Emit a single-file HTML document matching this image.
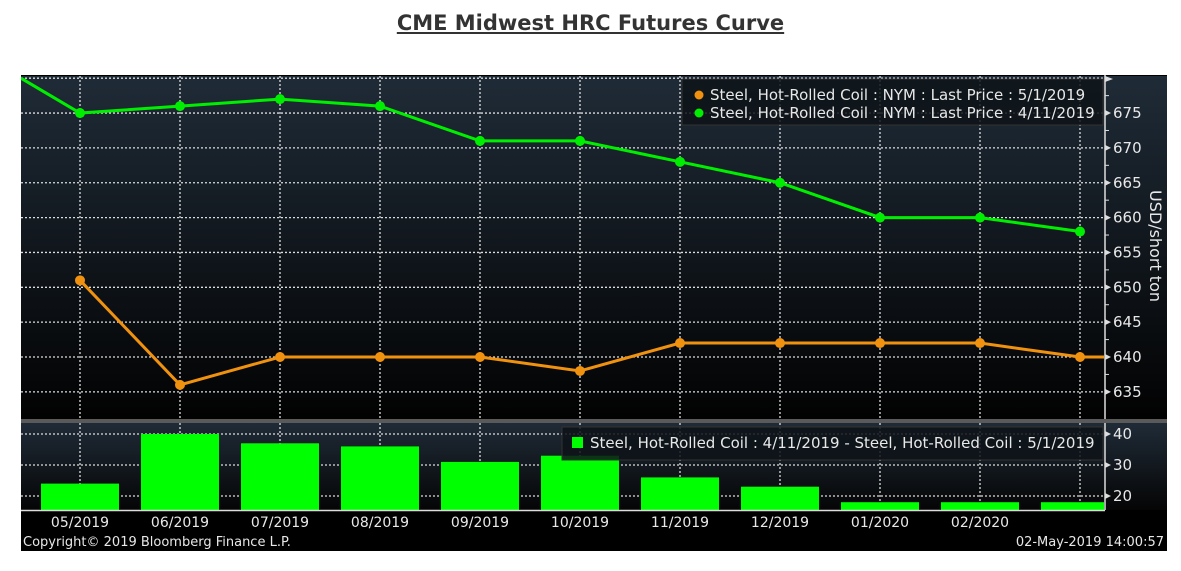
<!DOCTYPE html>
<html><head><meta charset="utf-8"><style>
body{margin:0;background:#fff;width:1181px;height:571px;overflow:hidden;font-family:"DejaVu Sans","Liberation Sans",sans-serif}
#title{position:absolute;left:0;width:1181px;top:11px;text-align:center;font:bold 21px "DejaVu Sans","Liberation Sans",sans-serif;color:#333;text-decoration:underline}
svg{position:absolute;left:0;top:0}
</style></head><body>
<div id="title">CME Midwest HRC Futures Curve</div>
<svg id="c" width="1181" height="571">
<defs>
<linearGradient id="g1" x1="0" y1="0" x2="0" y2="1"><stop offset="0" stop-color="#1f2b37"/><stop offset="1" stop-color="#020202"/></linearGradient>
<linearGradient id="g2" x1="0" y1="0" x2="0" y2="1"><stop offset="0" stop-color="#1f2b37"/><stop offset="1" stop-color="#050505"/></linearGradient>
<clipPath id="pc"><rect x="21" y="76" width="1083" height="440"/></clipPath>
</defs>
<rect x="21" y="75" width="1146" height="476" fill="#000"/>
<rect x="21" y="76" width="1146" height="343" fill="url(#g1)"/>
<rect x="21" y="419" width="1146" height="4" fill="#5a5a5a"/>
<rect x="21" y="423" width="1146" height="87" fill="url(#g2)"/>
<g id="grid"></g><g id="marks" clip-path="url(#pc)"></g><g id="axes"></g>
</svg>
<script>
const categories=["05/2019","06/2019","07/2019","08/2019","09/2019","10/2019","11/2019","12/2019","01/2020","02/2020","03/2020"];
const priceMay=[651,636,640,640,640,638,642,642,642,642,640];
const priceApr=[675,676,677,676,671,671,668,665,660,660,658];
const aprStart=680, mayEnd=640;
const yTicks=[635,640,645,650,655,660,665,670,675];
const diffTicks=[20,30,40];
const NS="http://www.w3.org/2000/svg";
const xs=i=>80+i*100;
const yU=v=>357-(v-640)*6.97;
const yL=v=>496-(v-20)*3.1;
function mk(p,t,a){const e=document.createElementNS(NS,t);for(const k in a)e.setAttribute(k,a[k]);p.appendChild(e);return e;}
const grid=document.getElementById('grid'),marks=document.getElementById('marks'),axes=document.getElementById('axes');
const dash={stroke:"#ddd","stroke-width":1.3,"stroke-dasharray":"2,2"};
[...yTicks,680].forEach(v=>{const l=mk(grid,'line',Object.assign({x1:21,x2:1104,y1:yU(v),y2:yU(v)},dash));

});
diffTicks.forEach(v=>{const l=mk(grid,'line',Object.assign({x1:21,x2:1104,y1:yL(v),y2:yL(v)},dash));

});
categories.forEach((c,i)=>{[[76,419],[423,510]].forEach(r=>{const l=mk(grid,'line',Object.assign({x1:xs(i),x2:xs(i),y1:r[0],y2:r[1]},dash));

});});
categories.forEach((c,i)=>{const d=priceApr[i]-priceMay[i];const b=mk(marks,'rect',{x:xs(i)-39,y:yL(d),width:78,height:510-yL(d),fill:"#00ff00"});

});
const gp=[[21,yU(aprStart)]].concat(priceApr.map((v,i)=>[xs(i),yU(v)]));
const gl=mk(marks,'polyline',{points:gp.map(p=>p.join(',')).join(' '),fill:"none",stroke:"#00ee00","stroke-width":3});


const op=priceMay.map((v,i)=>[xs(i),yU(v)]).concat([[1104,yU(mayEnd)]]);
const ol=mk(marks,'polyline',{points:op.map(p=>p.join(',')).join(' '),fill:"none",stroke:"#f0920f","stroke-width":3});


priceApr.forEach((v,i)=>{const p=mk(marks,'circle',{cx:xs(i),cy:yU(v),r:5,fill:"#00ee00"});

});
priceMay.forEach((v,i)=>{const p=mk(marks,'circle',{cx:xs(i),cy:yU(v),r:5,fill:"#f0920f"});

});
mk(axes,'line',{x1:1105,x2:1105,y1:75,y2:419,stroke:"#ddd","stroke-width":1.5});
mk(axes,'line',{x1:1105,x2:1105,y1:423,y2:510,stroke:"#ddd","stroke-width":1.5});
mk(axes,'line',{x1:21,x2:1105,y1:510.5,y2:510.5,stroke:"#ddd","stroke-width":1.5});
const T={fill:"#e8e8e8","font-size":"15px","font-family":"DejaVu Sans, Liberation Sans, sans-serif"};
yTicks.forEach(v=>{mk(axes,'path',{d:`M1105 ${yU(v)-3}L1111 ${yU(v)}L1105 ${yU(v)+3}Z`,fill:"#ddd"});
mk(axes,'line',{x1:1105,x2:1109,y1:yU(v+2.5),y2:yU(v+2.5),stroke:"#ddd"});
const t=mk(axes,'text',Object.assign({x:1113,y:yU(v)+5},T));t.textContent=v;

});
mk(axes,'path',{d:`M1105 76L1113 79L1105 82Z`,fill:"#ddd"});
diffTicks.forEach(v=>{mk(axes,'path',{d:`M1105 ${yL(v)-3}L1111 ${yL(v)}L1105 ${yL(v)+3}Z`,fill:"#ddd"});
const t=mk(axes,'text',Object.assign({x:1113,y:yL(v)+5},T));t.textContent=v;

});
categories.forEach((c,i)=>{if(i==categories.length-1)return;const t=mk(axes,'text',Object.assign({x:xs(i),y:527,"text-anchor":"middle"},T,{"font-size":"14px"}));t.textContent=c;

});
const yt=mk(axes,'text',Object.assign({transform:"translate(1150,246) rotate(90)","text-anchor":"middle"},T,{"font-size":"16px"}));yt.textContent="USD/short ton";


const f1=mk(axes,'text',Object.assign({x:23,y:546},T,{"font-size":"13px"}));f1.textContent="Copyright© 2019 Bloomberg Finance L.P.";


const f2=mk(axes,'text',Object.assign({x:1164,y:546,"text-anchor":"end"},T,{"font-size":"13px"}));f2.textContent="02-May-2019 14:00:57";


const lg=mk(axes,'g',{});


mk(lg,'rect',{x:682,y:79,width:421,height:46,fill:"#0d1318","fill-opacity":0.85,stroke:"#333"});
[["#f0920f","Steel, Hot-Rolled Coil : NYM : Last Price : 5/1/2019",96],["#00ee00","Steel, Hot-Rolled Coil : NYM : Last Price : 4/11/2019",114]].forEach(e=>{
const g=mk(lg,'g',{});


mk(g,'circle',{cx:699,cy:e[2]-1,r:4.5,fill:e[0]});
const t=mk(g,'text',Object.assign({x:710,y:e[2]+4},T));t.textContent=e[1];});
const lg2=mk(axes,'g',{});


mk(lg2,'rect',{x:562,y:427,width:541,height:33,fill:"#0d1318","fill-opacity":0.85,stroke:"#333"});
mk(lg2,'rect',{x:572,y:437,width:11,height:11,fill:"#00ff00"});
const t2=mk(lg2,'text',Object.assign({x:590,y:448},T));t2.textContent="Steel, Hot-Rolled Coil : 4/11/2019 - Steel, Hot-Rolled Coil : 5/1/2019";
</script>
</body></html>
